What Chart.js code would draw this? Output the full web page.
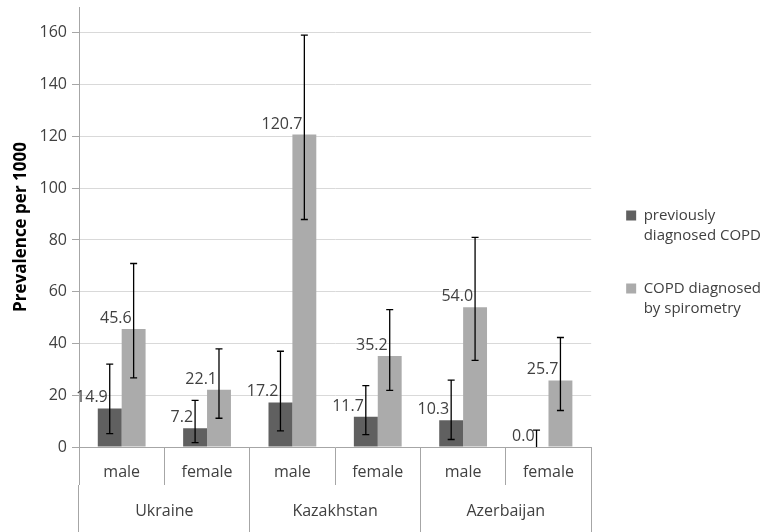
<!DOCTYPE html>
<html>
<head>
<meta charset="utf-8">
<script src="https://cdn.jsdelivr.net/npm/chart.js@4/dist/chart.umd.min.js"></script>
<style>
  html, body { margin: 0; padding: 0; background: #fff; }
  #wrap { width: 769px; height: 532px; position: relative; }
</style>
</head>
<body>
<div id="wrap"><canvas id="chart"></canvas></div>
<script>
// Countries (outer axis row) and sex (inner axis row)
const countries = ['Ukraine', 'Kazakhstan', 'Azerbaijan'];
const sexes = ['male', 'female', 'male', 'female', 'male', 'female'];

// Prevalence per 1000
const previouslyDiagnosed = [14.9, 7.2, 17.2, 11.7, 10.3, 0.0];
const spirometryDiagnosed = [45.6, 22.1, 120.7, 35.2, 54.0, 25.7];

// 95% confidence limits
const previousLow  = [5.2, 1.7, 6.2, 4.8, 2.9, 0.0];
const previousHigh = [32.0, 18.0, 37.0, 23.7, 25.8, 6.5];
const spiroLow     = [26.7, 11.1, 87.9, 21.9, 33.5, 14.1];
const spiroHigh    = [70.9, 37.9, 159.1, 53.1, 81.0, 42.3];

// Value axis ticks
const yTicks = [0, 20, 40, 60, 80, 100, 120, 140, 160];

const FONT = '"Open Sans", "DejaVu Sans", sans-serif';
const TEXT = '#404040';
const AXIS = '#a6a6a6';

// Draws confidence-interval whiskers and value labels on each bar
const errorBars = {
  id: 'errorBars',
  afterDatasetsDraw(chart) {
    const { ctx } = chart;
    const y = chart.scales.y;
    chart.data.datasets.forEach((ds, di) => {
      const meta = chart.getDatasetMeta(di);
      meta.data.forEach((bar, i) => {
        const x = bar.x;
        const lo = ds.ciLow[i], hi = ds.ciHigh[i];
        const yl = y.getPixelForValue(lo);
        const yh = y.getPixelForValue(hi);
        const cap = 3.5;
        ctx.save();
        ctx.strokeStyle = '#000';
        ctx.lineWidth = 1.3;
        ctx.beginPath();
        ctx.moveTo(x, yl);
        ctx.lineTo(x, yh);
        ctx.moveTo(x - cap, yh);
        ctx.lineTo(x + cap, yh);
        if (lo > 0) {
          ctx.moveTo(x - cap, yl);
          ctx.lineTo(x + cap, yl);
        }
        ctx.stroke();
        ctx.fillStyle = TEXT;
        ctx.font = '16px ' + FONT;
        ctx.textAlign = 'right';
        ctx.textBaseline = 'alphabetic';
        ctx.fillText(ds.data[i].toFixed(1), x - 2, bar.y - 6);
        ctx.restore();
      });
    });
  }
};

// Nudges the side legend slightly upward
const legendNudge = {
  id: 'legendNudge',
  afterLayout(chart) {
    const lg = chart.legend;
    if (lg) { lg.top -= 5; lg.bottom -= 5; lg.left += 2; lg.right += 2; }
  }
};

new Chart(document.getElementById('chart'), {
  type: 'bar',
  data: {
    labels: sexes,
    datasets: [
      {
        label: ['previously', 'diagnosed COPD'],
        data: previouslyDiagnosed,
        ciLow: previousLow,
        ciHigh: previousHigh,
        backgroundColor: '#606060',
        barPercentage: 1,
        categoryPercentage: 0.56
      },
      {
        label: ['COPD diagnosed', 'by spirometry'],
        data: spirometryDiagnosed,
        ciLow: spiroLow,
        ciHigh: spiroHigh,
        backgroundColor: '#ababab',
        barPercentage: 1,
        categoryPercentage: 0.56
      }
    ]
  },
  options: {
    responsive: true,
    maintainAspectRatio: false,
    animation: false,
    layout: { padding: { top: 7, right: 0, left: 0, bottom: 0 } },
    plugins: {
      tooltip: { enabled: false },
      legend: {
        position: 'right',
        align: 'center',
        labels: {
          boxWidth: 10,
          boxHeight: 10,
          padding: 33,
          color: TEXT,
          font: { family: FONT, size: 15, lineHeight: 1.33 }
        }
      }
    },
    scales: {
      x: {
        type: 'category',
        position: 'bottom',
        offset: true,
        grid: { offset: true, drawOnChartArea: false, tickLength: 38, color: AXIS },
        border: { display: true, color: AXIS },
        ticks: { padding: -22, color: TEXT, font: { family: FONT, size: 16 }, maxRotation: 0, autoSkip: false },
        afterFit(s) { s.height = 38; }
      },
      x2: {
        type: 'category',
        labels: countries,
        position: 'bottom',
        offset: true,
        grid: { offset: true, drawOnChartArea: false, tickLength: 47, color: AXIS },
        border: { display: false },
        ticks: { padding: -30, color: TEXT, font: { family: FONT, size: 16 }, maxRotation: 0, autoSkip: false },
        afterFit(s) { s.height = 47; }
      },
      y: {
        min: 0,
        max: 170,
        afterBuildTicks(s) { s.ticks = yTicks.map(v => ({ value: v })); },
        grid: { color: '#d9d9d9', tickColor: AXIS, tickLength: 7 },
        border: { display: true, color: AXIS },
        ticks: { padding: 5, color: TEXT, font: { family: FONT, size: 16 } },
        title: {
          display: true,
          text: 'Prevalence per 1000',
          color: '#000',
          font: { family: FONT, size: 17, weight: 'bold' },
          padding: { top: 11, bottom: 0 }
        },
        afterFit(s) { s.width = 79; s.paddingTop = 0; }
      }
    }
  },
  plugins: [errorBars, legendNudge]
});
</script>
</body>
</html>
